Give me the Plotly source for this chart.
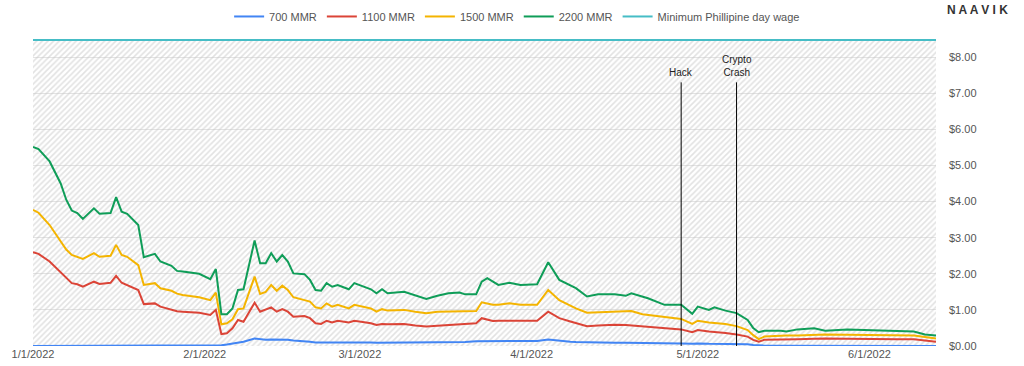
import pandas as pd
import plotly.graph_objects as go

# ---- data ----
start_date = "2022-01-01"
days = [0, 1, 3, 5, 6, 7, 8, 9, 11, 12,
        14, 15, 16, 17, 19, 20, 22, 23, 25, 26,
        27, 30, 32, 33, 34, 35, 36, 37, 38, 40,
        41, 42, 43, 44, 45, 46, 47, 49, 50, 51,
        52, 53, 54, 55, 57, 58, 61, 62, 63, 64,
        67, 69, 71, 73, 75, 77, 78, 80, 81, 82,
        83, 84, 86, 88, 91, 93, 95, 97, 98, 100,
        102, 105, 107, 108, 110, 111, 114, 117, 119, 120,
        122, 123, 125, 127, 129, 130, 131, 132, 135, 136,
        138, 141, 143, 147, 150, 153, 156, 159, 161, 163]

mmr_2200 = [5.51, 5.45, 5.11, 4.50, 4.05, 3.75, 3.68, 3.52, 3.81, 3.66,
            3.68, 4.12, 3.72, 3.66, 3.35, 2.46, 2.55, 2.34, 2.22, 2.08,
            2.06, 2.00, 1.85, 2.13, 0.88, 0.88, 1.04, 1.55, 1.57, 2.92,
            2.29, 2.29, 2.57, 2.34, 2.52, 2.34, 2.01, 1.99, 1.83, 1.55,
            1.53, 1.74, 1.64, 1.69, 1.57, 1.74, 1.57, 1.46, 1.57, 1.46,
            1.50, 1.41, 1.30, 1.39, 1.46, 1.48, 1.43, 1.43, 1.78, 1.88,
            1.78, 1.69, 1.75, 1.69, 1.71, 2.32, 1.83, 1.69, 1.60, 1.37,
            1.43, 1.43, 1.39, 1.46, 1.37, 1.32, 1.14, 1.14, 0.89, 1.09,
            1.00, 1.07, 0.98, 0.91, 0.72, 0.50, 0.38, 0.42, 0.42, 0.40,
            0.46, 0.49, 0.42, 0.46, 0.44, 0.42, 0.42, 0.40, 0.32, 0.29]

mmr_1500 = [3.77, 3.69, 3.35, 2.88, 2.67, 2.52, 2.47, 2.41, 2.57, 2.47,
            2.50, 2.80, 2.52, 2.47, 2.24, 1.69, 1.74, 1.60, 1.53, 1.45,
            1.41, 1.35, 1.27, 1.48, 0.60, 0.63, 0.74, 1.02, 1.04, 1.92,
            1.44, 1.50, 1.69, 1.53, 1.67, 1.55, 1.35, 1.27, 1.23, 1.07,
            1.04, 1.18, 1.09, 1.14, 1.04, 1.14, 1.04, 0.95, 1.02, 0.98,
            1.00, 0.95, 0.91, 0.95, 0.95, 0.95, 0.95, 0.97, 1.21, 1.18,
            1.14, 1.14, 1.18, 1.14, 1.14, 1.55, 1.27, 1.12, 1.04, 0.92,
            0.93, 0.94, 0.95, 0.97, 0.88, 0.86, 0.80, 0.75, 0.61, 0.70,
            0.65, 0.64, 0.61, 0.55, 0.44, 0.30, 0.19, 0.26, 0.29, 0.29,
            0.29, 0.31, 0.32, 0.31, 0.30, 0.30, 0.29, 0.29, 0.25, 0.21]

mmr_1100 = [2.60, 2.55, 2.34, 2.05, 1.88, 1.74, 1.71, 1.64, 1.78, 1.72,
            1.75, 1.94, 1.75, 1.69, 1.55, 1.16, 1.18, 1.09, 1.01, 0.96,
            0.95, 0.92, 0.86, 1.00, 0.33, 0.35, 0.49, 0.72, 0.67, 1.20,
            0.95, 1.02, 1.07, 0.95, 1.02, 0.95, 0.81, 0.83, 0.77, 0.63,
            0.61, 0.70, 0.65, 0.70, 0.65, 0.70, 0.63, 0.58, 0.61, 0.60,
            0.61, 0.57, 0.54, 0.56, 0.58, 0.61, 0.60, 0.63, 0.77, 0.73,
            0.69, 0.70, 0.70, 0.70, 0.70, 0.95, 0.77, 0.68, 0.63, 0.55,
            0.57, 0.59, 0.58, 0.57, 0.55, 0.53, 0.49, 0.46, 0.38, 0.44,
            0.40, 0.39, 0.36, 0.32, 0.26, 0.17, 0.12, 0.17, 0.19, 0.19,
            0.19, 0.20, 0.21, 0.20, 0.19, 0.19, 0.19, 0.19, 0.15, 0.12]

mmr_700 = [0, 0, 0, 0, 0, 0, 0, 0, 0, 0,
           0, 0, 0, 0, 0, 0, 0, 0, 0, 0,
           0, 0, 0, 0, 0.02, 0.04, 0.07, 0.10, 0.12, 0.21,
           0.19, 0.17, 0.18, 0.18, 0.18, 0.17, 0.15, 0.14, 0.12, 0.10,
           0.10, 0.12, 0.12, 0.12, 0.11, 0.11, 0.10, 0.09, 0.09, 0.09,
           0.09, 0.09, 0.09, 0.10, 0.10, 0.11, 0.11, 0.13, 0.13, 0.13,
           0.13, 0.13, 0.13, 0.13, 0.14, 0.18, 0.14, 0.12, 0.11, 0.10,
           0.10, 0.09, 0.09, 0.09, 0.08, 0.08, 0.07, 0.07, 0.06, 0.07,
           0.06, 0.06, 0.06, 0.05, 0.05, 0.03, 0.01, 0.01, 0.01, 0.01,
           0.01, 0.01, 0.01, 0.01, 0.01, 0.01, 0.01, 0.01, 0.00, 0.00]

wage_days = [0, 163]
min_wage = [8.47, 8.47]

event_names = ["Hack", "Crypto<br>Crash"]
event_days = [117, 127]
event_top = 7.3

tick_dates = ["2022-01-01", "2022-02-01", "2022-03-01", "2022-04-01", "2022-05-01", "2022-06-01"]
tick_labels = ["1/1/2022", "2/1/2022", "3/1/2022", "4/1/2022", "5/1/2022", "6/1/2022"]

series_names = ["700 MMR", "1100 MMR", "1500 MMR", "2200 MMR"]
series_colors = ["#4285F4", "#DB4437", "#F4B400", "#0F9D58"]
wage_name = "Minimum Phillipine day wage"
wage_color = "#46BDC6"

# ---- build ----
t0 = pd.Timestamp(start_date)
dates = t0 + pd.to_timedelta(days, unit="D")
wage_dates = t0 + pd.to_timedelta(wage_days, unit="D")
ev_dates = t0 + pd.to_timedelta(event_days, unit="D")

FONT = "Liberation Sans, Arial, sans-serif"
fig = go.Figure()

# hatched area under the minimum-wage line (no legend entry of its own)
fig.add_trace(go.Scatter(
    x=wage_dates, y=min_wage, mode="none", showlegend=False, hoverinfo="skip",
    fill="tozeroy", fillcolor="rgba(0,0,0,0)",
    fillpattern=dict(shape="/", fgcolor="#c6c6c6", bgcolor="rgba(255,255,255,0)",
                     size=4, solidity=0.4),
))
fig.add_trace(go.Scatter(
    x=wage_dates, y=min_wage, name=wage_name, mode="lines",
    line=dict(color=wage_color, width=2), legendrank=1005,
))

for name, vals, col, rank in zip(series_names, [mmr_700, mmr_1100, mmr_1500, mmr_2200],
                                 series_colors, [1001, 1002, 1003, 1004]):
    fig.add_trace(go.Scatter(
        x=dates, y=vals, name=name, mode="lines",
        line=dict(color=col, width=2), legendrank=rank,
    ))

for d, label in zip(ev_dates, event_names):
    fig.add_shape(type="line", x0=d, x1=d, y0=0, y1=event_top, xref="x", yref="y",
                  line=dict(color="black", width=1))
    fig.add_annotation(x=d, y=event_top, xref="x", yref="y", text=label,
                       showarrow=False, yanchor="bottom", yshift=2,
                       font=dict(family=FONT, size=10, color="#222"))

fig.add_annotation(xref="paper", yref="paper", x=1.0465, y=1.094, xanchor="center",
                   yanchor="middle", showarrow=False, text="<b>N A A V I K</b>",
                   font=dict(family=FONT, size=12, color="#333"))

fig.update_layout(
    width=1024, height=366,
    margin=dict(l=33, r=88, t=39, b=20, autoexpand=False),
    paper_bgcolor="white", plot_bgcolor="white",
    font=dict(family=FONT, size=11, color="#555"),
    showlegend=True,
    legend=dict(orientation="h", xref="container", yref="container",
                x=0.505, y=0.955, xanchor="center", yanchor="middle",
                font=dict(family=FONT, size=11, color="#555"),
                itemwidth=30, tracegroupgap=0, bgcolor="rgba(0,0,0,0)"),
    xaxis=dict(type="date", range=[t0, t0 + pd.Timedelta(days=163)],
               tickvals=pd.to_datetime(tick_dates), ticktext=tick_labels,
               showgrid=False, zeroline=False, showline=False, ticks="",
               automargin=False,
               tickfont=dict(family=FONT, size=11, color="#555")),
    yaxis=dict(side="right", range=[0, 8.5], tickvals=[0, 1, 2, 3, 4, 5, 6, 7, 8],
               tickformat="$.2f", showgrid=True, gridcolor="#e3e3e3", gridwidth=1,
               zeroline=False, showline=False, ticks="", ticklabelstandoff=12,
               automargin=False,
               tickfont=dict(family=FONT, size=11, color="#555")),
)

fig.write_html("out.html", config={"displayModeBar": False},
               post_script="document.body.style.margin='0';")
